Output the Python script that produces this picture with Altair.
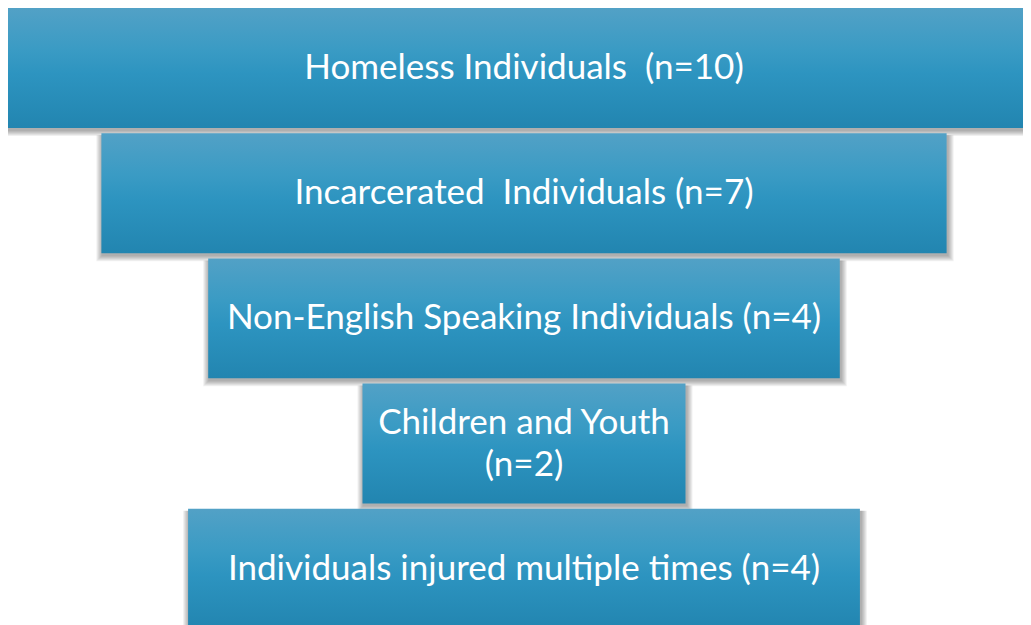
import altair as alt
import pandas as pd

# ---- data ----
groups = [
    "Homeless Individuals  (n=10)",
    "Incarcerated  Individuals (n=7)",
    "Non-English Speaking Individuals (n=4)",
    "Children and Youth\n(n=2)",
    "Individuals injured multiple times (n=4)",
]
counts = [10, 7, 4, 2, 4]
# width of each box relative to the top box (as drawn in the reference)
box_width = [1.0, 0.819, 0.612, 0.313, 0.651]
order = [0, 1, 2, 3, 4]

STEP_PX = 125.2      # vertical pitch of the boxes
BAND = 0.958         # share of each row taken by the box
LINE = 42 / STEP_PX  # text line height in row units

df = pd.DataFrame({"label": groups, "n": counts, "w": box_width, "row": order})
df["left"] = -df["w"] / 2
df["right"] = df["w"] / 2
df["top"] = df["row"]
df["bottom"] = df["row"] + BAND

# one text row per line of each label
rows = []
for g, r in zip(groups, order):
    lines = g.split("\n")
    k = len(lines)
    for i, ln in enumerate(lines):
        rows.append({
            "line": ln.replace("  ", "\u00a0\u00a0"),
            "ty": r + BAND / 2 + (i - (k - 1) / 2) * LINE,
            "center": 0.0,
        })
tdf = pd.DataFrame(rows)

W, H = 1015, 617
xs = alt.Scale(domain=[-0.5, (W - 516) / 1032], nice=False, zero=False)
ys = alt.Scale(domain=[0, H / STEP_PX], nice=False, zero=False, reverse=True)

base = alt.Chart(df)
enc = dict(
    x=alt.X("left:Q", scale=xs, axis=None),
    x2="right:Q",
    y=alt.Y("top:Q", scale=ys, axis=None),
    y2="bottom:Q",
)

shadows = []
for s in [1, 2, 3, 4, 5, 6]:
    shadows.append(
        base.mark_rect(
            color="black", opacity=0.06,
            xOffset=-s + 1, x2Offset=s + 1, yOffset=2, y2Offset=2 + s,
        ).encode(**enc)
    )

grad = alt.LinearGradient(
    gradient="linear",
    stops=[
        alt.GradientStop(color="#52a1c6", offset=0),
        alt.GradientStop(color="#3a9bc4", offset=0.35),
        alt.GradientStop(color="#2d94c0", offset=0.55),
        alt.GradientStop(color="#2285b0", offset=1),
    ],
    x1=0, x2=0, y1=0, y2=1,
)

boxes = base.mark_rect(color=grad).encode(**enc)

labels = alt.Chart(tdf).mark_text(
    color="white", font="Lato", fontSize=35,
    align="center", baseline="middle",
).encode(
    x=alt.X("center:Q", scale=xs, axis=None),
    y=alt.Y("ty:Q", scale=ys, axis=None),
    text="line:N",
)

chart = alt.layer(*shadows, boxes, labels).properties(
    width=W, height=H,
    padding=0,
    autosize=alt.AutoSizeParams(type="none"),
    background="white",
).configure_view(stroke=None)

chart.save("out.html", embed_options={"renderer": "svg", "actions": False})
